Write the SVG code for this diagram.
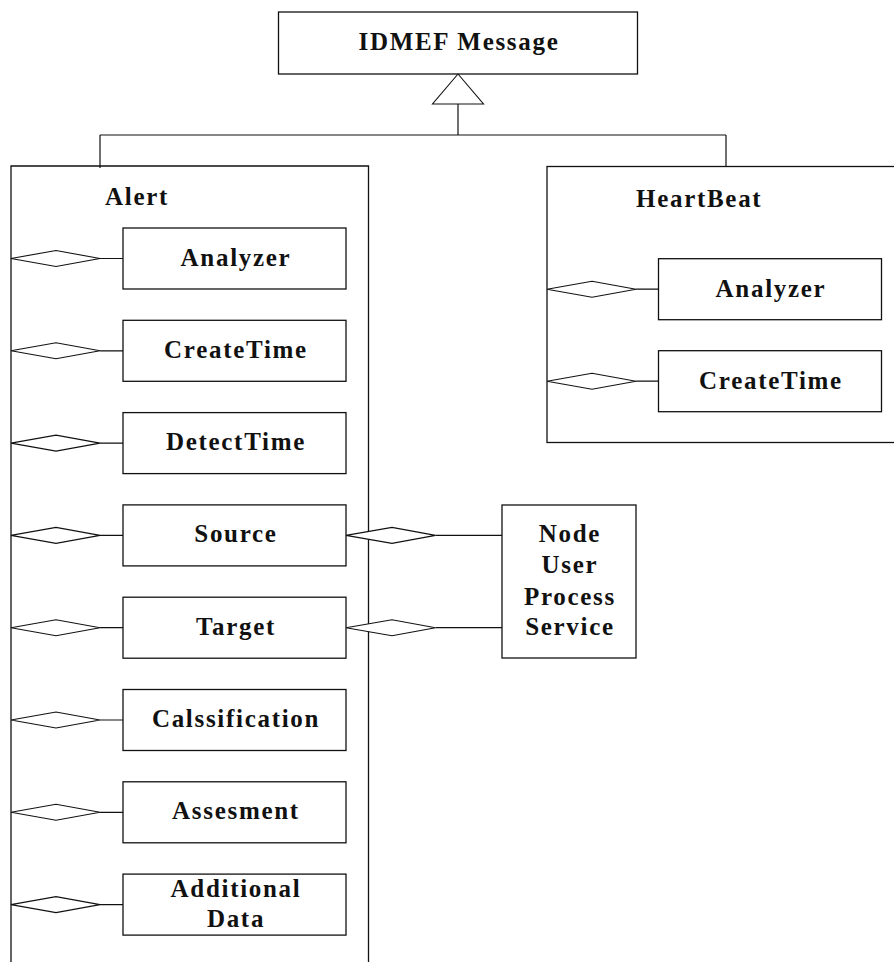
<svg xmlns="http://www.w3.org/2000/svg" width="894" height="962" viewBox="0 0 894 962">
<style>
.b{fill:#fff;stroke:#111;stroke-width:1.3}
.c{fill:none;stroke:#111;stroke-width:1.2}
.d{fill:#fff;stroke:#111;stroke-width:1.1}
text{font-family:"Liberation Serif","Times New Roman",serif;font-weight:bold;font-size:25px;letter-spacing:1.7px;fill:#111}
.m{text-anchor:middle}
</style>
<rect width="894" height="962" fill="#fff"/>
<g id="idmef"><rect class="b" x="278.5" y="12" width="359" height="62"/><text class="m" x="459" y="50">IDMEF Message</text></g>
<g id="alert"><path class="b" d="M11,968 V166 H368.5 V968"/><text x="105" y="205">Alert</text></g>
<g id="heartbeat"><rect class="b" x="547" y="166.5" width="360" height="276"/><text x="636" y="207">HeartBeat</text></g>
<g id="a-analyzer"><rect class="b" x="123" y="228" width="223" height="61"/><text class="m" x="236" y="265.5">Analyzer</text></g>
<g id="a-createtime"><rect class="b" x="123" y="320.3" width="223" height="61"/><text class="m" x="236" y="357.8">CreateTime</text></g>
<g id="a-detecttime"><rect class="b" x="123" y="412.6" width="223" height="61"/><text class="m" x="236" y="450.1">DetectTime</text></g>
<g id="a-source"><rect class="b" x="123" y="504.9" width="223" height="61"/><text class="m" x="236" y="542.4">Source</text></g>
<g id="a-target"><rect class="b" x="123" y="597.2" width="223" height="61"/><text class="m" x="236" y="634.7">Target</text></g>
<g id="a-classification"><rect class="b" x="123" y="689.5" width="223" height="61"/><text class="m" x="236" y="727">Calssification</text></g>
<g id="a-assesment"><rect class="b" x="123" y="781.8" width="223" height="61"/><text class="m" x="236" y="819.3">Assesment</text></g>
<g id="a-additional"><rect class="b" x="123" y="874.1" width="223" height="61"/><text class="m" x="236" y="897">Additional</text><text class="m" x="236" y="927">Data</text></g>
<g id="h-analyzer"><rect class="b" x="658.5" y="258.7" width="223" height="61"/><text class="m" x="771" y="296.5">Analyzer</text></g>
<g id="h-createtime"><rect class="b" x="658.5" y="350.7" width="223" height="61"/><text class="m" x="771" y="388.5">CreateTime</text></g>
<g id="node"><rect class="b" x="502" y="505" width="134" height="153"/><text class="m" x="570" y="542">Node</text><text class="m" x="570" y="573">User</text><text class="m" x="570" y="605">Process</text><text class="m" x="570" y="635">Service</text></g>
<g id="connectors">
<polygon class="d" points="458,74 432.5,104 483.5,104"/>
<path class="c" d="M458,104 V135 M100,135 H726 M100,135 V168 M726,135 V166.5"/>
<g id="agg">
<path class="c" d="M100,258.5 H123 M100,350.8 H123 M100,443.1 H123 M100,535.4 H123 M100,627.7 H123 M100,720 H123 M100,812.3 H123 M100,904.6 H123 M636,289.2 H658.5 M636,381.2 H658.5 M435.5,535.4 H502 M435.5,627.7 H502"/>
<polygon class="d" points="11,258.5 56,250.5 100,258.5 56,266.5"/>
<polygon class="d" points="11,350.8 56,342.8 100,350.8 56,358.8"/>
<polygon class="d" points="11,443.1 56,435.1 100,443.1 56,451.1"/>
<polygon class="d" points="11,535.4 56,527.4 100,535.4 56,543.4"/>
<polygon class="d" points="11,627.7 56,619.7 100,627.7 56,635.7"/>
<polygon class="d" points="11,720 56,712 100,720 56,728"/>
<polygon class="d" points="11,812.3 56,804.3 100,812.3 56,820.3"/>
<polygon class="d" points="11,904.6 56,896.6 100,904.6 56,912.6"/>
<polygon class="d" points="547,289.2 592,281.2 636,289.2 592,297.2"/>
<polygon class="d" points="547,381.2 592,373.2 636,381.2 592,389.2"/>
<polygon class="d" points="346,535.4 392,527.4 435.5,535.4 392,543.4"/>
<polygon class="d" points="346,627.7 392,619.7 435.5,627.7 392,635.7"/>
</g>
</g>
</svg>
